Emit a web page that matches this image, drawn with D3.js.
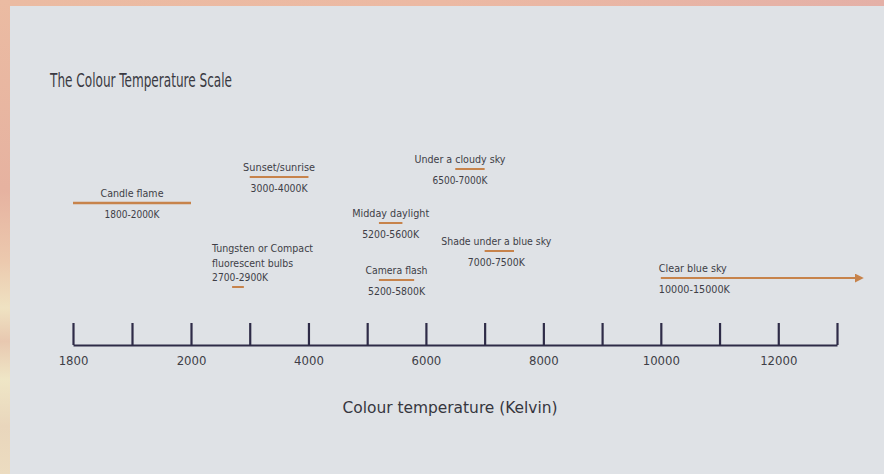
<!DOCTYPE html>
<html>
<head>
<meta charset="utf-8">
<script src="https://cdn.jsdelivr.net/npm/d3@7"></script>
<style>
  html, body { margin: 0; padding: 0; background: #dfe2e6; }
  svg { display: block; }
</style>
</head>
<body>
<svg id="chart" width="884" height="474"></svg>
<script>
// ---- data ----
const tickValues = [1800, 1900, 2000, 3000, 4000, 5000, 6000, 7000, 8000, 9000, 10000, 11000, 12000, 13000];
const tickLabels = ["1800", "", "2000", "", "4000", "", "6000", "", "8000", "", "10000", "", "12000", ""];
const sources = ["Candle flame", "Sunset/sunrise", "Tungsten or Compact|fluorescent bulbs", "Under a cloudy sky",
                 "Midday daylight", "Shade under a blue sky", "Camera flash", "Clear blue sky"];
const lowK  = [1800, 3000, 2700, 6500, 5200, 7000, 5200, 10000];
const highK = [2000, 4000, 2900, 7000, 5600, 7500, 5800, 15000];
const rangeLabels = ["1800-2000K", "3000-4000K", "2700-2900K", "6500-7000K", "5200-5600K", "7000-7500K", "5200-5800K", "10000-15000K"];
const titleText = "The Colour Temperature Scale";
const axisTitle = "Colour temperature (Kelvin)";

// ---- layout (not data) ----
const layout = {
  "Candle flame":          {y: 203, align: "middle", w: 63, rw: 55, sw: 2.6},
  "Sunset/sunrise":        {y: 177, align: "middle", w: 72, rw: 57, sw: 2},
  "Tungsten or Compact|fluorescent bulbs": {y: 287, align: "start", w: [101, 81], rw: 56, sw: 2},
  "Under a cloudy sky":    {y: 169, align: "middle", w: 91, rw: 55, sw: 2, dx: -10},
  "Midday daylight":       {y: 223, align: "middle", w: 77, rw: 57, sw: 2},
  "Shade under a blue sky":{y: 251, align: "middle", w: 110, rw: 57, sw: 2, dx: -3},
  "Camera flash":          {y: 280, align: "middle", w: 62, rw: 57, sw: 2},
  "Clear blue sky":        {y: 278, align: "start", w: 68, rw: 71, sw: 2, arrow: true}
};

const W = 884, H = 474;
const svg = d3.select("#chart");
const FONT = "'Liberation Sans Narrow', 'DejaVu Sans Condensed', 'Open Sans', sans-serif";
const TEXT = "#3e3e46";
const ORANGE = "#c7834b";
const AXIS = "#2e2b47";

// ---- frame ----
const defs = svg.append("defs");
const gTop = defs.append("linearGradient").attr("id", "gTop").attr("x1", 0).attr("x2", 1).attr("y1", 0).attr("y2", 0);
gTop.append("stop").attr("offset", 0).attr("stop-color", "#ebbba2");
gTop.append("stop").attr("offset", 0.5).attr("stop-color", "#ecb9a3");
gTop.append("stop").attr("offset", 1).attr("stop-color", "#e4b0a7");
const gLeft = defs.append("linearGradient").attr("id", "gLeft").attr("x1", 0).attr("x2", 0).attr("y1", 0).attr("y2", 1);
[[0, "#ebbba2"], [0.4, "#e6b2a0"], [0.55, "#ecc9ae"], [0.65, "#efe2c2"], [0.72, "#e8c8b0"], [0.8, "#efe6c6"], [0.9, "#e9d6bc"], [1, "#ecdcc0"]]
  .forEach(([o, c]) => gLeft.append("stop").attr("offset", o).attr("stop-color", c));

svg.append("rect").attr("x", 0).attr("y", 0).attr("width", W).attr("height", H).attr("fill", "#dfe2e6");
svg.append("rect").attr("x", 0).attr("y", 0).attr("width", W).attr("height", 6).attr("fill", "url(#gTop)");
svg.append("rect").attr("x", 0).attr("y", 0).attr("width", 10).attr("height", H).attr("fill", "url(#gLeft)");

// ---- title ----
svg.append("text").attr("x", 50).attr("y", 87)
  .attr("font-family", FONT).attr("font-size", 19).attr("fill", "#3a3a42")
  .attr("textLength", 182).attr("lengthAdjust", "spacingAndGlyphs")
  .text(titleText);

// ---- scale & axis ----
const x = d3.scaleLinear().domain([1800, 2000, 13000]).range([73, 191, 837]);
const axisY = 345;
const axis = d3.axisBottom(x)
  .tickValues(tickValues)
  .tickFormat((d, i) => tickLabels[i])
  .tickSizeInner(-22).tickSizeOuter(0).tickPadding(11);
const gAxis = svg.append("g").attr("transform", `translate(0,${axisY})`).call(axis);
gAxis.select(".domain").attr("stroke", AXIS).attr("stroke-width", 2.2);
gAxis.selectAll(".tick line").attr("stroke", AXIS).attr("stroke-width", 2.2);
gAxis.selectAll(".tick text").attr("font-family", FONT).attr("font-size", 13).attr("fill", TEXT);

svg.append("text").attr("x", 450).attr("y", 413).attr("text-anchor", "middle")
  .attr("font-family", FONT).attr("font-size", 16).attr("fill", "#36363e")
  .attr("textLength", 215).attr("lengthAdjust", "spacingAndGlyphs")
  .text(axisTitle);

// ---- arrowhead ----
defs.append("marker").attr("id", "arrow").attr("viewBox", "0 0 10 10")
  .attr("refX", 8).attr("refY", 5).attr("markerWidth", 4.5).attr("markerHeight", 4.5)
  .attr("markerUnits", "strokeWidth").attr("orient", "auto")
  .append("path").attr("d", "M0,0 L10,5 L0,10 z").attr("fill", ORANGE);

// ---- annotations ----
const xMaxDraw = x(13000) + 25;
sources.forEach((name, i) => {
  const L = layout[name];
  const x0 = x(lowK[i]);
  const x1 = Math.min(x(highK[i]), xMaxDraw);
  const g = svg.append("g");
  g.append("line").attr("x1", x0).attr("x2", x1).attr("y1", L.y).attr("y2", L.y)
    .attr("stroke", ORANGE).attr("stroke-width", L.sw)
    .attr("marker-end", L.arrow ? "url(#arrow)" : null);
  const lines = name.split("|");
  let tx, anchor;
  if (L.align === "middle") { tx = (x0 + x1) / 2 + (L.dx || 0); anchor = "middle"; }
  else if (L.arrow) { tx = x0 - 2; anchor = "start"; }
  else { tx = x0 - 20; anchor = "start"; }
  const widths = Array.isArray(L.w) ? L.w : [L.w];
  lines.forEach((t, j) => {
    const by = L.y - 6 - (lines.length - 1 - j) * 14.5 - (lines.length > 1 ? 10 : 0) * 0;
    g.append("text").attr("x", tx).attr("y", lines.length > 1 ? L.y - 35 + j * 14.5 : by)
      .attr("text-anchor", anchor).attr("font-family", FONT).attr("font-size", 11).attr("fill", TEXT)
      .attr("textLength", widths[j]).attr("lengthAdjust", "spacingAndGlyphs")
      .text(t);
  });
  const ry = lines.length > 1 ? L.y - 6 : L.y + 15;
  g.append("text").attr("x", tx).attr("y", ry)
    .attr("text-anchor", anchor).attr("font-family", FONT).attr("font-size", 11).attr("fill", TEXT)
    .attr("textLength", L.rw).attr("lengthAdjust", "spacingAndGlyphs")
    .text(rangeLabels[i]);
});
</script>
</body>
</html>
